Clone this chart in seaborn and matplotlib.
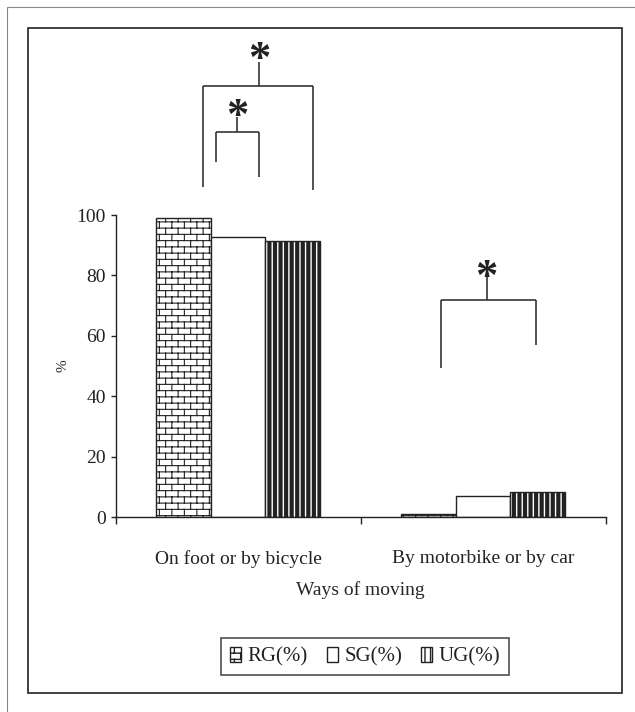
import warnings

import numpy as np
import pandas as pd
import matplotlib
matplotlib.use("Agg")
import matplotlib.pyplot as plt
from matplotlib import hatch as mhatch
from matplotlib.patches import Patch, Rectangle
from matplotlib.path import Path
import seaborn as sns

warnings.filterwarnings("ignore")

categories = ["On foot or by bicycle", "By motorbike or by car"]
groups = ["RG(%)", "SG(%)", "UG(%)"]
rg_values = [99.0, 1.0]
sg_values = [92.6, 7.0]
ug_values = [91.3, 8.4]
y_ticks = [0, 20, 40, 60, 80, 100]


class BrickHatch(mhatch.HatchPatternBase):
    # excel style brick fill, picked with hatch="b"
    def __init__(self, hatch, density):
        self.segs = []
        if "b" in hatch:
            rows, cols = 16, 8
            for i in range(rows):
                y0 = (i + 0.5) / rows
                y1 = y0 + 1 / rows
                self.segs.append(((0, y0), (1, y0)))
                shift = 0.25 if i % 2 == 0 else 0.75
                for j in range(cols):
                    x = (j + shift) / cols
                    if y1 <= 1:
                        self.segs.append(((x, y0), (x, y1)))
                    else:
                        self.segs.append(((x, y0), (x, 1)))
                        self.segs.append(((x, 0), (x, y1 - 1)))
        self.num_vertices = 2 * len(self.segs)

    def set_vertices_and_codes(self, vertices, codes):
        vertices[:] = np.array(self.segs, dtype=float).reshape(-1, 2)
        codes[0::2] = Path.MOVETO
        codes[1::2] = Path.LINETO


mhatch._hatch_types.append(BrickHatch)

sns.set_style("white")
plt.rcParams["font.family"] = ["Liberation Serif", "DejaVu Serif"]
plt.rcParams["text.color"] = "#222222"
plt.rcParams["xtick.color"] = "#222222"
plt.rcParams["ytick.color"] = "#222222"

df = pd.DataFrame({
    "Ways of moving": categories * 3,
    "Group": np.repeat(groups, len(categories)),
    "Percent": rg_values + sg_values + ug_values,
})

W, H = 635, 712
fig = plt.figure(figsize=(W / 100, H / 100), dpi=100)
ax = fig.add_axes([115.5 / W, 195 / H, 490 / W, 302 / H])

sns.barplot(data=df, x="Ways of moving", y="Percent", hue="Group", order=categories,
            hue_order=groups, palette=["white"] * 3, saturation=1, width=0.667,
            edgecolor="#222222", linewidth=1.0, legend=False, ax=ax)

hatches = ["b", None, "|||"]
hatch_lw = [0.8, 1.0, 3.0]
for cont, h, hlw in zip(ax.containers, hatches, hatch_lw):
    for bar in cont:
        bar.set_hatch(h)
        if hasattr(bar, "set_hatch_linewidth"):
            bar.set_hatch_linewidth(hlw)

ax.set_xlim(-0.5, 1.5)
ax.set_ylim(0, 100)
ax.set_yticks(y_ticks)
ax.tick_params(axis="y", direction="out", length=3.6, width=1.0, pad=3.5, labelsize=14, left=True)
ax.set_xticks([-0.5, 0.5, 1.5])
ax.set_xticklabels([])
ax.set_xticks([0, 1], minor=True)
ax.set_xticklabels(categories, minor=True)
ax.tick_params(axis="x", which="major", direction="out", length=5, width=1.0, bottom=True)
ax.tick_params(axis="x", which="minor", length=0, pad=24, labelsize=14)
for side in ["top", "right"]:
    ax.spines[side].set_visible(False)
for side in ["left", "bottom"]:
    ax.spines[side].set_color("#222222")
    ax.spines[side].set_linewidth(1.0)
ax.set_xlabel("Ways of moving", fontsize=14, labelpad=9)
ax.set_ylabel("%", fontsize=11, labelpad=5)

# significance brackets: x_left, x_right, y_bar, y_left_end, y_right_end, x_stem, y_stem_top, y_star
brackets = [
    (-0.142, 0.305, 142.8, 109.4, 108.3, 0.086, 150.8, 155.0),
    (-0.091, 0.087, 127.5, 117.5, 112.5, -0.003, 132.5, 136.1),
    (0.827, 1.215, 71.9, 49.4, 56.9, 1.015, 79.8, 82.9),
]
line_kw = dict(color="#333333", lw=1.2, clip_on=False, solid_capstyle="butt")
for xl, xr, yb, yl, yr, xs, ys, ystar in brackets:
    ax.plot([xl, xr], [yb, yb], **line_kw)
    ax.plot([xl, xl], [yb, yl], **line_kw)
    ax.plot([xr, xr], [yb, yr], **line_kw)
    ax.plot([xs, xs], [yb, ys], **line_kw)
    ax.text(xs, ystar - 7.4, "*", fontsize=32, fontweight="bold", ha="center", va="baseline",
            clip_on=False)

handles = [Patch(facecolor="white", edgecolor="#222222", hatch=h, linewidth=1.0) for h in hatches]
for hnd, hlw in zip(handles, hatch_lw):
    if hasattr(hnd, "set_hatch_linewidth"):
        hnd.set_hatch_linewidth(hlw)
leg = fig.legend(handles, groups, loc="center", bbox_to_anchor=(365 / W, 1 - 656.5 / H), ncol=3,
                 frameon=True, fancybox=False, edgecolor="#222222", fontsize=15,
                 handlelength=0.55, handleheight=0.75, handletextpad=0.3, columnspacing=0.9,
                 borderpad=0.4)
leg.get_frame().set_linewidth(1.2)

fig.add_artist(Rectangle((7 / W, -0.1), 1.2, (H - 7) / H + 0.1, transform=fig.transFigure,
                         fill=False, edgecolor="#888888", lw=0.8))
fig.add_artist(Rectangle((28 / W, (H - 693) / H), (622 - 28) / W, (693 - 28) / H,
                         transform=fig.transFigure, fill=False, edgecolor="#333333", lw=1.3))

fig.savefig("out.png", dpi=100)
